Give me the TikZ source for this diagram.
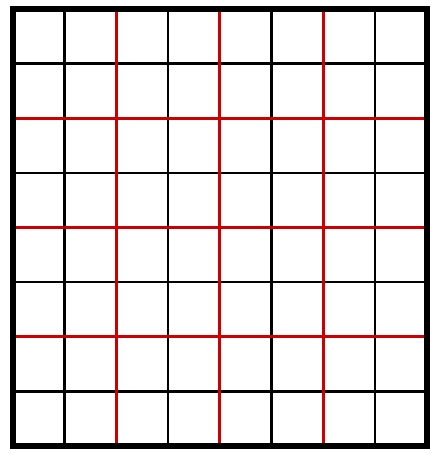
\documentclass[tikz,border=0pt]{standalone}
\definecolor{gridred}{RGB}{204,0,0}
\begin{document}
\begin{tikzpicture}[x=1pt,y=-1pt,
  thinline/.style={black,line width=2.4pt},
  redline/.style={gridred,line width=3pt},
  frame/.style={black,line width=6pt}]
\useasboundingbox (0,0) rectangle (433,454);

% cell size
\def\cw{51.6875}
\def\ch{54.625}

\foreach \i in {1,3,5,7} {
  \draw[thinline] (13+\i*\cw,9) -- (13+\i*\cw,446);
  \draw[thinline] (13,9+\i*\ch) -- (426.5,9+\i*\ch);
}
\foreach \i in {2,4,6} {
  \draw[redline] (13+\i*\cw,9) -- (13+\i*\cw,446);
  \draw[redline] (13,9+\i*\ch) -- (426.5,9+\i*\ch);
}

\draw[frame] (13,9) rectangle (426.5,446);
\end{tikzpicture}
\end{document}
